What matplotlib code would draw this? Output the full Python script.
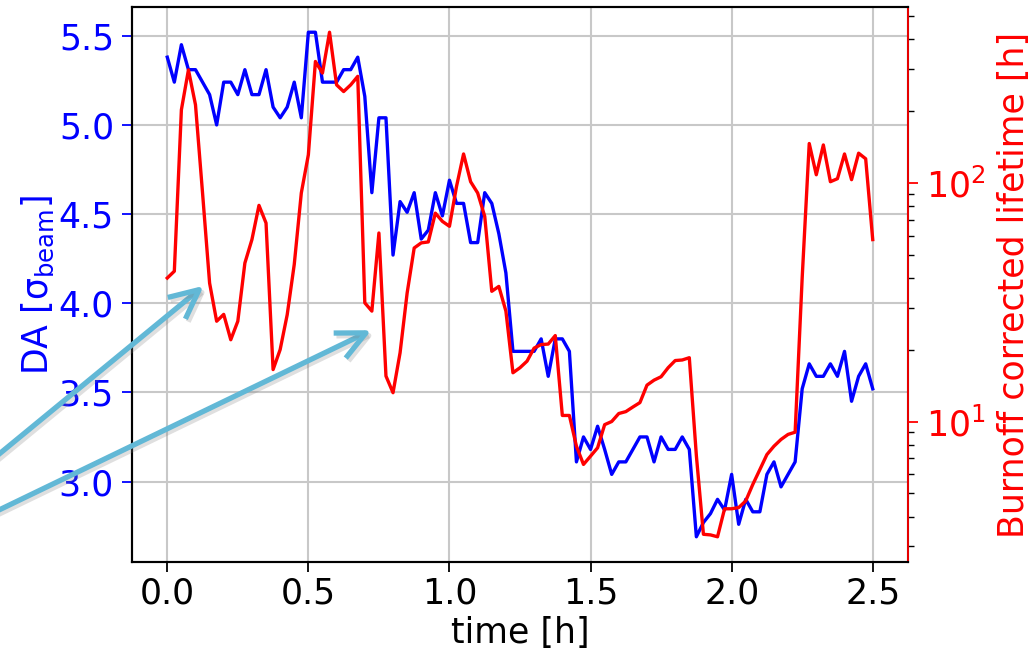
import numpy as np
import matplotlib
matplotlib.use("Agg")
import matplotlib.pyplot as plt
import matplotlib.patheffects as pe
from matplotlib.patches import FancyArrowPatch

# time axis: one sample every 1.5 min
time_h = np.arange(101) * 0.025

# dynamic aperture [sigma_beam]
da = [5.38, 5.24, 5.45, 5.31, 5.31, 5.24, 5.17, 5.00, 5.24, 5.24,
      5.17, 5.31, 5.17, 5.17, 5.31, 5.10, 5.04, 5.10, 5.24, 5.04,
      5.52, 5.52, 5.24, 5.24, 5.24, 5.31, 5.31, 5.38, 5.16, 4.62,
      5.04, 5.04, 4.27, 4.57, 4.51, 4.62, 4.36, 4.41, 4.62, 4.49,
      4.69, 4.56, 4.56, 4.34, 4.34, 4.62, 4.56, 4.39, 4.17, 3.73,
      3.73, 3.73, 3.73, 3.80, 3.59, 3.80, 3.80, 3.73, 3.11, 3.25,
      3.18, 3.31, 3.18, 3.04, 3.11, 3.11, 3.18, 3.25, 3.25, 3.11,
      3.25, 3.18, 3.18, 3.25, 3.18, 2.69, 2.77, 2.82, 2.90, 2.84,
      3.04, 2.76, 2.90, 2.83, 2.83, 3.04, 3.11, 2.97, 3.04, 3.11,
      3.52, 3.66, 3.59, 3.59, 3.66, 3.59, 3.73, 3.45, 3.59, 3.66,
      3.52]

# burnoff corrected lifetime [h]
lifetime = [39.9, 42.6, 202, 297, 212, 90.6, 38.0, 26.3, 28.1, 22.0,
            26.3, 46.1, 57.8, 80.4, 67.8, 16.5, 20.0, 28.0, 45.5, 90.6,
            131, 322, 288, 427, 257, 241, 257, 279, 31.4, 29.0,
            61.6, 15.5, 13.2, 19.4, 34.5, 53.3, 56.0, 56.5, 74.6, 68.9,
            65.7, 96.5, 132, 101, 90.6, 72.3, 35.1, 36.8, 29.0, 16.0,
            16.8, 17.9, 20.3, 21.0, 21.1, 22.9, 10.6, 10.6, 7.88, 6.61,
            7.16, 7.76, 9.70, 10.0, 10.8, 11.0, 11.5, 12.0, 14.2, 14.9,
            15.4, 16.8, 18.0, 18.1, 18.5, 7.2, 3.37, 3.35, 3.29, 4.31,
            4.31, 4.36, 4.65, 5.45, 6.29, 7.27, 7.88, 8.41, 8.83, 9.02,
            40.0, 146, 108, 144, 101, 104, 132, 103, 133, 126,
            57.8]

# arrow endpoints in figure pixels (from the left edge, y measured from the top)
arrow_starts = [(-30, 478), (-30, 524)]
arrow_tips = [(206, 284), (374, 329)]

W, H = 1035, 655
fig = plt.figure(figsize=(W / 100, H / 100), dpi=100)
ax1 = fig.add_axes([132 / W, 1 - 562 / H, (908 - 132) / W, (562 - 7) / H])

fs = 25
ax1.plot(time_h, da, color="blue", lw=2.4)
ax1.set_xlabel("time [h]", fontsize=fs)
ax1.set_ylabel(r"DA [$\mathrm{\sigma_{beam}}$]", color="blue", fontsize=fs)
ax1.set_xticks([0.0, 0.5, 1.0, 1.5, 2.0, 2.5])
ax1.set_yticks([3.0, 3.5, 4.0, 4.5, 5.0, 5.5])
ax1.tick_params(axis="x", labelsize=fs, length=7, width=1.3)
ax1.tick_params(axis="y", colors="blue", labelsize=fs, length=7, width=1.3, pad=6)
ax1.grid(True, color="#c8c8c8", lw=1.5)
for s in ax1.spines.values():
    s.set_linewidth(1.5)

ax2 = ax1.twinx()
ax2.semilogy(time_h, lifetime, color="red", lw=2.4)
ax2.set_ylabel("Burnoff corrected lifetime [h]", color="red", fontsize=fs)
ax2.tick_params(axis="y", which="major", colors="red", labelsize=fs, length=7, width=1.3, pad=6)
ax2.tick_params(axis="y", which="minor", length=4, width=1.0)
ax2.spines["right"].set_color("red")
ax2.spines["right"].set_linewidth(1.3)
ax2.spines["left"].set_linewidth(1.5)
ax2.spines["top"].set_linewidth(1.5)
ax2.spines["bottom"].set_linewidth(1.5)

ax1.yaxis.set_label_coords(-0.098, 0.5)
ax1.xaxis.set_label_coords(0.5, -0.098)
ax2.yaxis.set_label_coords(1.115, 0.5)

# callout arrows pointing at the lifetime dips
for (x0, y0), (x1, y1) in zip(arrow_starts, arrow_tips):
    arr = FancyArrowPatch((x0 / W, 1 - y0 / H), (x1 / W, 1 - y1 / H),
                          transform=fig.transFigure,
                          arrowstyle="->,head_length=2.1,head_width=1.0",
                          mutation_scale=10, color="#62b8d6", lw=3.8,
                          capstyle="butt", zorder=10)
    arr.set_path_effects([pe.SimpleLineShadow(offset=(2, -2), shadow_color="gray", alpha=0.25),
                          pe.Normal()])
    fig.add_artist(arr)

fig.savefig("out.png", dpi=100)
